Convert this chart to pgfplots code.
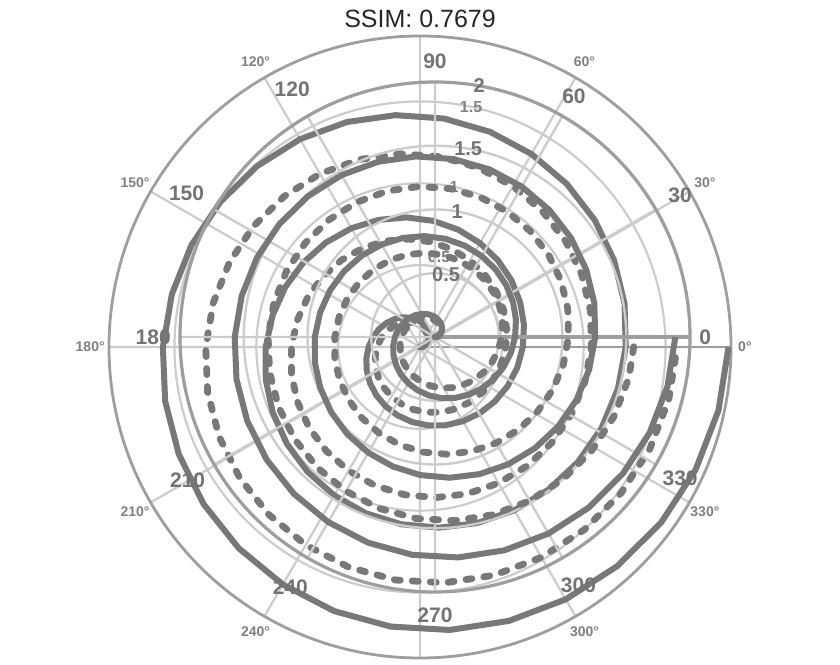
\documentclass[border=0pt]{standalone}
\usepackage{pgfplots}
\pgfplotsset{compat=1.18}
\usepgfplotslibrary{polar}
\usepackage{pgfplotstable}
\usepackage{fontspec}
\setmainfont{Liberation Sans}
\definecolor{curve}{gray}{0.47}
\definecolor{gridc}{gray}{0.80}
\definecolor{outerc}{gray}{0.62}
\definecolor{lab}{gray}{0.45}
\definecolor{labA}{gray}{0.50}

\pgfplotstableread{
a r1 r2
0 0 0
12 0.0209 0.0175
24 0.0419 0.0349
36 0.0628 0.0524
48 0.0838 0.0698
60 0.1047 0.0873
72 0.1257 0.1047
84 0.1466 0.1222
96 0.1676 0.1396
108 0.1885 0.1571
120 0.2094 0.1745
132 0.2304 0.1920
144 0.2513 0.2094
156 0.2723 0.2269
168 0.2932 0.2443
180 0.3142 0.2618
192 0.3351 0.2793
204 0.3560 0.2967
216 0.3770 0.3142
228 0.3979 0.3316
240 0.4189 0.3491
252 0.4398 0.3665
264 0.4608 0.3840
276 0.4817 0.4014
288 0.5027 0.4189
300 0.5236 0.4363
312 0.5445 0.4538
324 0.5655 0.4712
336 0.5864 0.4887
348 0.6074 0.5061
360 0.6283 0.5236
372 0.6493 0.5411
384 0.6702 0.5585
396 0.6912 0.5760
408 0.7121 0.5934
420 0.7330 0.6109
432 0.7540 0.6283
444 0.7749 0.6458
456 0.7959 0.6632
468 0.8168 0.6807
480 0.8378 0.6981
492 0.8587 0.7156
504 0.8796 0.7330
516 0.9006 0.7505
528 0.9215 0.7679
540 0.9425 0.7854
552 0.9634 0.8029
564 0.9844 0.8203
576 1.0053 0.8378
588 1.0263 0.8552
600 1.0472 0.8727
612 1.0681 0.8901
624 1.0891 0.9076
636 1.1100 0.9250
648 1.1310 0.9425
660 1.1519 0.9599
672 1.1729 0.9774
684 1.1938 0.9948
696 1.2147 1.0123
708 1.2357 1.0297
720 1.2566 1.0472
732 1.2776 1.0647
744 1.2985 1.0821
756 1.3195 1.0996
768 1.3404 1.1170
780 1.3614 1.1345
792 1.3823 1.1519
804 1.4032 1.1694
816 1.4242 1.1868
828 1.4451 1.2043
840 1.4661 1.2217
852 1.4870 1.2392
864 1.5080 1.2566
876 1.5289 1.2741
888 1.5499 1.2915
900 1.5708 1.3090
912 1.5917 1.3265
924 1.6127 1.3439
936 1.6336 1.3614
948 1.6546 1.3788
960 1.6755 1.3963
972 1.6965 1.4137
984 1.7174 1.4312
996 1.7383 1.4486
1008 1.7593 1.4661
1020 1.7802 1.4835
1032 1.8012 1.5010
1044 1.8221 1.5184
1056 1.8431 1.5359
1068 1.8640 1.5533
1080 1.8850 1.5708
}\spiral

\begin{document}
\begin{tikzpicture}
\path[use as bounding box] (0,0) rectangle (420pt,332pt);

% ---- faint, larger polar plot (A) ----
\begin{polaraxis}[
  at={(210pt,158.5pt)}, anchor=center,
  scale only axis, width=311pt, height=311pt,
  ymin=0, ymax=1.9,
  xtick={0,30,...,330}, ytick={0.5,1,1.5},
  xticklabels={}, yticklabels={},
  major tick length=0pt,
  xmajorgrids, ymajorgrids,
  major grid style={gridc, line width=1.1pt},
  axis line style={outerc, line width=1.4pt},
  clip=false]
\addplot[curve, line width=3pt, no markers] table[x=a,y=r1]{\spiral};
\addplot[curve, line width=3.4pt, line cap=round, dash pattern=on 3pt off 6pt, no markers] table[x=a,y=r2]{\spiral};
\begin{scope}[every node/.style={labA, font=\fontsize{7}{8}\selectfont\bfseries, inner sep=1pt, anchor=center}]
\node at (axis cs:0,1.985) {0°};
\node at (axis cs:30,2.01) {30°};
\node at (axis cs:60,2.01) {60°};
\node at (axis cs:120,2.01) {120°};
\node at (axis cs:150,2.01) {150°};
\node at (axis cs:180,2.015) {180°};
\node at (axis cs:210,2.01) {210°};
\node at (axis cs:240,2.01) {240°};
\node at (axis cs:300,2.01) {300°};
\node at (axis cs:330,2.01) {330°};
\end{scope}
\begin{scope}[every node/.style={labA, font=\fontsize{8}{10}\selectfont\bfseries, inner sep=0pt}]
\node at (axis cs:78,0.56) {0.5};
\node at (axis cs:78,1) {1};
\node at (axis cs:78,1.5) {1.5};
\end{scope}
\end{polaraxis}

% ---- darker, smaller polar plot (B) ----
\begin{polaraxis}[
  at={(217.5pt,163.5pt)}, anchor=center,
  scale only axis, width=255pt, height=255pt,
  ymin=0, ymax=2,
  xtick={0,30,...,330}, ytick={0.5,1,1.5,2},
  xticklabels={}, yticklabels={},
  major tick length=0pt,
  xmajorgrids, ymajorgrids,
  major grid style={gridc, line width=1.2pt},
  axis line style={outerc, line width=1.6pt},
  clip=false]
\addplot[curve, line width=3pt, no markers] table[x=a,y=r1]{\spiral};
\addplot[curve, line width=3.4pt, line cap=round, dash pattern=on 3pt off 6pt, no markers] table[x=a,y=r2]{\spiral};
\begin{scope}[every node/.style={lab, font=\fontsize{10.5}{12}\selectfont\bfseries, inner sep=1pt, anchor=center}]
\node at (axis cs:0,2.12) {0};
\node at (axis cs:30,2.22) {30};
\node at (axis cs:60,2.18) {60};
\node at (axis cs:90,2.16) {90};
\node at (axis cs:120,2.24) {120};
\node at (axis cs:150,2.25) {150};
\node at (axis cs:180,2.21) {180};
\node at (axis cs:210,2.24) {210};
\node at (axis cs:240,2.27) {240};
\node at (axis cs:270,2.18) {270};
\node at (axis cs:300,2.25) {300};
\node at (axis cs:330,2.22) {330};
\end{scope}
\begin{scope}[every node/.style={lab, font=\fontsize{10}{12}\selectfont\bfseries, inner sep=0pt}]
\node at (axis cs:80,0.5) {0.5};
\node at (axis cs:80,1) {1};
\node at (axis cs:80,1.5) {1.5};
\node at (axis cs:80,2) {2};
\end{scope}
\end{polaraxis}

\node[anchor=base, font=\fontsize{12.5}{14}\selectfont, text=black!85] at (210pt,318pt) {SSIM: 0.7679};
\end{tikzpicture}
\end{document}
